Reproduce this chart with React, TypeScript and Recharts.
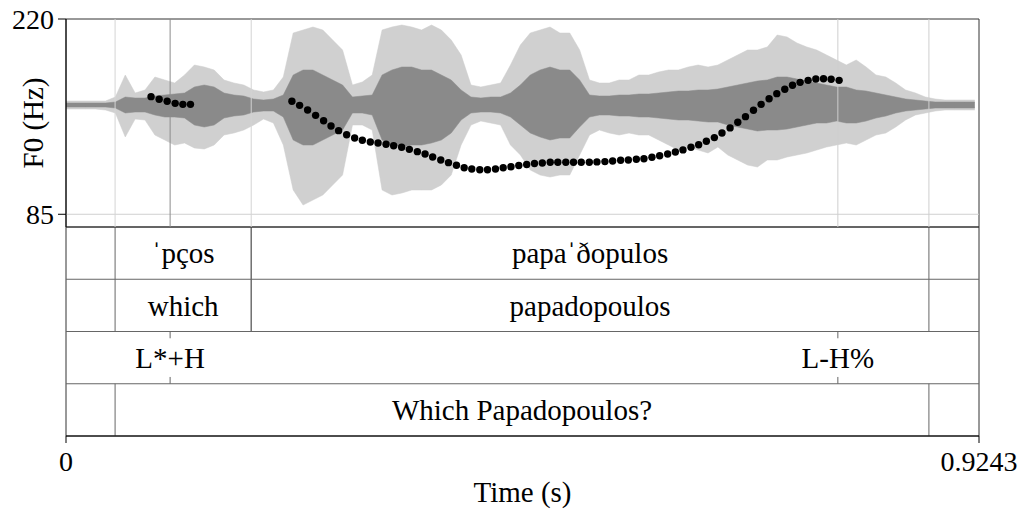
import React from 'react';
import {
  ComposedChart, Area, Scatter, XAxis, YAxis,
  ReferenceLine, ReferenceArea, ReferenceDot,
} from 'recharts';

const DURATION = 0.9243;
const F0_RANGE: [number, number] = [76.2, 220];
const F0_TICKS = [85, 220];
const TIME_TICKS = [0, 0.9243];

// Waveform envelope, one sample every 10 ms (arbitrary amplitude units).
const WAVE_T = [
  0.00, 0.01, 0.02, 0.03, 0.04, 0.05, 0.06, 0.07, 0.08, 0.09,
  0.10, 0.11, 0.12, 0.13, 0.14, 0.15, 0.16, 0.17, 0.18, 0.19,
  0.20, 0.21, 0.22, 0.23, 0.24, 0.25, 0.26, 0.27, 0.28, 0.29,
  0.30, 0.31, 0.32, 0.33, 0.34, 0.35, 0.36, 0.37, 0.38, 0.39,
  0.40, 0.41, 0.42, 0.43, 0.44, 0.45, 0.46, 0.47, 0.48, 0.49,
  0.50, 0.51, 0.52, 0.53, 0.54, 0.55, 0.56, 0.57, 0.58, 0.59,
  0.60, 0.61, 0.62, 0.63, 0.64, 0.65, 0.66, 0.67, 0.68, 0.69,
  0.70, 0.71, 0.72, 0.73, 0.74, 0.75, 0.76, 0.77, 0.78, 0.79,
  0.80, 0.81, 0.82, 0.83, 0.84, 0.85, 0.86, 0.87, 0.88, 0.89,
  0.90, 0.91, 0.92,
];
const PEAK_UP = [
  4, 4, 4, 4, 4, 8, 30, 12, 15, 28,
  25, 22, 30, 40, 38, 35, 25, 22, 20, 15,
  13, 15, 28, 72, 75, 78, 75, 65, 55, 20,
  23, 30, 75, 78, 80, 78, 75, 80, 75, 65,
  50, 20, 18, 20, 22, 40, 60, 72, 75, 78,
  72, 72, 55, 25, 22, 22, 25, 25, 30, 30,
  33, 35, 35, 38, 40, 38, 40, 45, 50, 55,
  55, 58, 70, 68, 62, 58, 55, 50, 45, 40,
  45, 38, 30, 28, 22, 15, 12, 8, 6, 5,
  5, 5, 5,
];
const PEAK_DOWN = [
  4, 4, 4, 4, 5, 8, 32, 14, 15, 30,
  35, 40, 38, 43, 44, 40, 30, 28, 25, 20,
  14, 18, 40, 85, 100, 95, 90, 80, 70, 20,
  20, 25, 85, 90, 88, 85, 85, 85, 80, 70,
  40, 20, 16, 18, 20, 40, 50, 65, 70, 72,
  70, 70, 50, 30, 25, 28, 30, 28, 30, 30,
  35, 40, 45, 42, 45, 48, 42, 50, 55, 60,
  62, 55, 55, 52, 50, 48, 45, 42, 40, 38,
  40, 35, 30, 28, 22, 15, 10, 8, 6, 5,
  5, 5, 5,
];
const CORE_UP = [
  2, 2, 2, 2, 2, 3, 8, 7, 7, 9,
  10, 11, 12, 18, 20, 18, 12, 10, 9, 6,
  5, 6, 10, 30, 35, 35, 30, 25, 20, 8,
  9, 10, 30, 35, 38, 38, 35, 35, 30, 25,
  15, 8, 7, 8, 8, 12, 20, 30, 35, 38,
  35, 35, 25, 10, 9, 9, 10, 10, 11, 11,
  12, 13, 14, 14, 15, 15, 16, 18, 20, 22,
  24, 25, 28, 28, 26, 24, 22, 20, 18, 18,
  15, 14, 12, 10, 8, 6, 5, 4, 3, 3,
  3, 3, 3,
];
const CORE_DOWN = [
  2, 2, 2, 2, 2, 3, 8, 7, 7, 10,
  12, 12, 13, 20, 22, 20, 13, 11, 10, 7,
  6, 6, 12, 35, 40, 40, 35, 30, 25, 8,
  8, 10, 35, 40, 42, 40, 40, 38, 35, 28,
  15, 8, 7, 7, 8, 12, 20, 28, 32, 35,
  33, 33, 22, 12, 10, 10, 11, 11, 12, 12,
  13, 14, 15, 15, 16, 17, 17, 20, 22, 24,
  26, 25, 25, 24, 22, 20, 18, 18, 16, 18,
  18, 16, 13, 11, 8, 6, 5, 4, 3, 3,
  3, 3, 3,
];

// F0 track (Hz)
const PITCH_T = [
  0.0861, 0.0943, 0.1024, 0.1105, 0.1183, 0.1260,
  0.2287, 0.2365, 0.2446, 0.2527, 0.2608, 0.2683, 0.2760, 0.2841, 0.2922, 0.3000,
  0.3081, 0.3159, 0.3240, 0.3317, 0.3398, 0.3476, 0.3557, 0.3635, 0.3712, 0.3794,
  0.3872, 0.3953, 0.4031, 0.4108, 0.4189, 0.4267, 0.4348, 0.4426, 0.4505, 0.4584,
  0.4664, 0.4743, 0.4822, 0.4902, 0.4979, 0.5060, 0.5138, 0.5216, 0.5298, 0.5375,
  0.5456, 0.5534, 0.5615, 0.5693, 0.5774, 0.5851, 0.5932, 0.6010, 0.6091, 0.6169,
  0.6246, 0.6327, 0.6405, 0.6483, 0.6564, 0.6641, 0.6723, 0.6801, 0.6879, 0.6960,
  0.7037, 0.7118, 0.7196, 0.7277, 0.7355, 0.7432, 0.7513, 0.7591, 0.7669, 0.7746,
  0.7827,
];
const PITCH_HZ = [
  166.3, 164.5, 163.1, 161.7, 161.0, 161.0,
  163.1, 160.3, 157.1, 153.4, 149.7, 146.0, 142.8, 140.0, 137.7, 136.2,
  135.0, 134.3, 133.4, 132.4, 131.3, 129.9, 128.3, 126.7, 124.6, 122.5,
  120.7, 118.9, 117.2, 116.3, 115.8, 115.8, 116.3, 117.2, 117.9, 118.7,
  119.4, 120.1, 120.4, 121.0, 121.0, 121.0, 121.0, 121.0, 121.0, 121.2,
  121.4, 121.8, 122.3, 122.5, 123.0, 123.4, 124.4, 125.5, 126.7, 128.1,
  129.5, 131.3, 133.1, 135.5, 138.0, 141.2, 144.7, 148.6, 152.5, 156.9,
  161.0, 164.9, 168.4, 171.4, 174.2, 176.2, 177.6, 178.5, 178.7, 178.3,
  177.6,
];

// TextGrid tiers
const WORDS_IPA = [
  { start: 0.0497, end: 0.1875, text: 'ˈpços' },
  { start: 0.1875, end: 0.8736, text: 'papaˈðopulos' },
];
const WORDS = [
  { start: 0.0497, end: 0.1875, text: 'which' },
  { start: 0.1875, end: 0.8736, text: 'papadopoulos' },
];
const TONES = [
  { time: 0.1054, text: 'L*+H' },
  { time: 0.7814, text: 'L-H%' },
];
const SENTENCE = [
  { start: 0.0497, end: 0.8736, text: 'Which Papadopoulos?' },
];

const FONT = 'Liberation Serif, Times New Roman, serif';
const TICK_FS = 28;
const TEXT_FS = 29;

const waveData = WAVE_T.map((t, i) => ({
  t,
  peak: [-PEAK_DOWN[i], PEAK_UP[i]],
  core: [-CORE_DOWN[i], CORE_UP[i]],
}));
const pitchData = PITCH_T.map((t, i) => ({ t, hz: PITCH_HZ[i] }));
const tierData = [{ t: 0, row: 0 }, { t: DURATION, row: 4 }];

const intervalTiers = [WORDS_IPA, WORDS, null, SENTENCE];
const boundaryLines = [
  { t: 0.0497, color: '#d4d4d4' },
  { t: 0.1054, color: '#8c8c8c' },
  { t: 0.1875, color: '#d4d4d4' },
  { t: 0.7814, color: '#cfcfcf' },
  { t: 0.8736, color: '#cfcfcf' },
];

const labelStyle = { fontSize: TEXT_FS, fill: '#000', fontFamily: FONT };
const tickStyle = { fontSize: TICK_FS, fill: '#000', fontFamily: FONT };

function PitchPanel() {
  return (
    <ComposedChart width={1024} height={232} data={waveData}
      margin={{ top: 19, right: 45, left: 0, bottom: 5 }}>
      <XAxis dataKey="t" type="number" domain={[0, DURATION]} hide />
      <YAxis yAxisId="wave" domain={[-122, 86]} hide />
      <YAxis
        yAxisId="f0"
        domain={F0_RANGE}
        ticks={F0_TICKS}
        interval={0}
        width={66}
        allowDataOverflow
        tickSize={8}
        tickMargin={4}
        stroke="#000"
        tick={tickStyle}
        label={{ value: 'F0 (Hz)', angle: -90, position: 'center', ...labelStyle }}
      />
      <ReferenceLine yAxisId="f0" y={85} stroke="#d0d0d0" />
      {boundaryLines.map((b) => (
        <ReferenceLine key={b.t} yAxisId="f0" x={b.t} stroke={b.color} />
      ))}
      <Area yAxisId="wave" dataKey="peak" type="linear" stroke="#cdcdcd" strokeWidth={0.5}
        fill="#d0d0d0" fillOpacity={1} isAnimationActive={false} />
      <Area yAxisId="wave" dataKey="core" type="linear" stroke="#8a8a8a" strokeWidth={0.5}
        fill="#8a8a8a" fillOpacity={1} isAnimationActive={false} />
      <Scatter yAxisId="f0" data={pitchData} dataKey="hz" isAnimationActive={false}
        shape={(p: any) => <circle cx={p.cx} cy={p.cy} r={3.7} fill="#000" />} />
      <ReferenceArea yAxisId="f0" x1={0} x2={DURATION} y1={F0_RANGE[0]} y2={F0_RANGE[1]}
        fill="none" stroke="#333" strokeWidth={1} />
    </ComposedChart>
  );
}

function TierPanel() {
  return (
    <ComposedChart width={1024} height={285} data={tierData}
      margin={{ top: 1, right: 45, left: 66, bottom: 0 }}>
      <XAxis
        type="number"
        dataKey="t"
        domain={[0, DURATION]}
        ticks={TIME_TICKS}
        interval={0}
        height={75}
        tickSize={7}
        tickMargin={8}
        stroke="#000"
        tick={tickStyle}
        label={{ value: 'Time (s)', position: 'insideBottom', offset: 9, ...labelStyle }}
      />
      <YAxis yAxisId="tier" type="number" dataKey="row" domain={[0, 4]} hide />
      <Scatter yAxisId="tier" dataKey="row" isAnimationActive={false} shape={() => <g />} />
      {[1, 2, 3].map((y) => (
        <ReferenceLine key={y} yAxisId="tier" y={y} stroke="#666" />
      ))}
      {intervalTiers.map((tier, row) =>
        tier
          ? tier.map((iv, j) => (
              <React.Fragment key={`${row}-${j}`}>
                <ReferenceArea yAxisId="tier" x1={iv.start} x2={iv.end} y1={3 - row} y2={4 - row}
                  fill="none" stroke="none"
                  label={{ value: iv.text, position: 'center', ...labelStyle }} />
                <ReferenceLine yAxisId="tier" stroke="#666"
                  segment={[{ x: iv.start, y: 3 - row }, { x: iv.start, y: 4 - row }]} />
                <ReferenceLine yAxisId="tier" stroke="#666"
                  segment={[{ x: iv.end, y: 3 - row }, { x: iv.end, y: 4 - row }]} />
              </React.Fragment>
            ))
          : TONES.map((p) => (
              <React.Fragment key={`tone-${p.time}`}>
                <ReferenceLine yAxisId="tier" stroke="#666"
                  segment={[{ x: p.time, y: 2 - 0.13 }, { x: p.time, y: 2 }]} />
                <ReferenceLine yAxisId="tier" stroke="#666"
                  segment={[{ x: p.time, y: 1 }, { x: p.time, y: 1 + 0.13 }]} />
                <ReferenceDot yAxisId="tier" x={p.time} y={1.5} r={0} stroke="none" fill="none"
                  label={{ value: p.text, position: 'center', ...labelStyle }} />
              </React.Fragment>
            ))
      )}
      <ReferenceArea yAxisId="tier" x1={0} x2={DURATION} y1={0} y2={4}
        fill="none" stroke="#333" strokeWidth={1} />
    </ComposedChart>
  );
}

export default function App() {
  return (
    <div style={{ position: 'absolute', left: 0, top: 0, width: 1024, height: 511, background: '#fff', fontFamily: FONT }}>
      <div style={{ position: 'absolute', left: 0, top: 226 }}>
        <TierPanel />
      </div>
      <div style={{ position: 'absolute', left: 0, top: 0 }}>
        <PitchPanel />
      </div>
    </div>
  );
}
